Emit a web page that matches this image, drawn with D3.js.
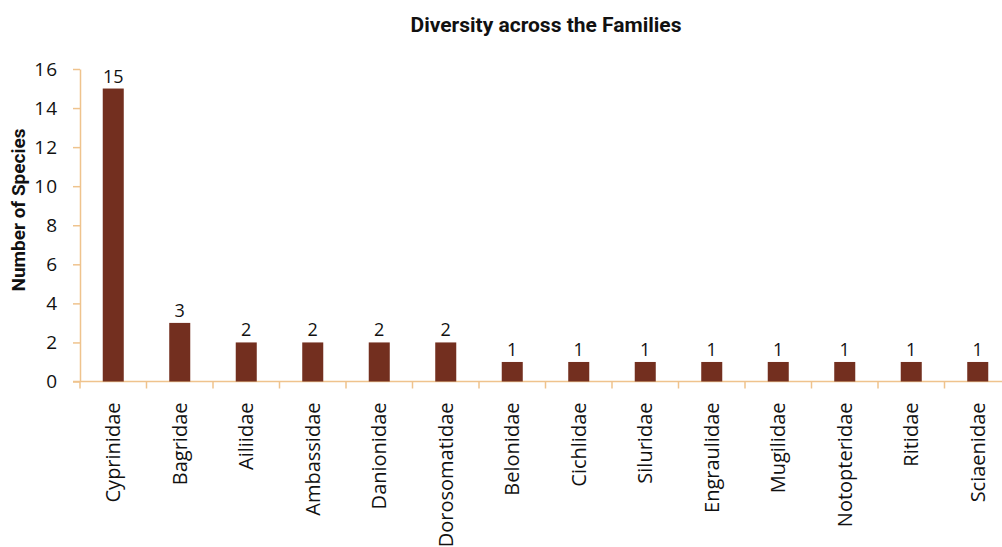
<!DOCTYPE html>
<html>
<head>
<meta charset="utf-8">
<script src="https://cdn.jsdelivr.net/npm/d3@7"></script>
<style>
  html, body { margin: 0; padding: 0; background: #fff; }
  svg { display: block; }
</style>
</head>
<body>
<svg id="chart" width="1002" height="547"></svg>
<script>
// Species count per fish family
const families = ["Cyprinidae", "Bagridae", "Ailiidae", "Ambassidae", "Danionidae", "Dorosomatidae",
  "Belonidae", "Cichlidae", "Siluridae", "Engraulidae", "Mugilidae", "Notopteridae", "Ritidae", "Sciaenidae"];
const species = [15, 3, 2, 2, 2, 2, 1, 1, 1, 1, 1, 1, 1, 1];
const yTicks = [0, 2, 4, 6, 8, 10, 12, 14, 16];

const svg = d3.select("#chart");
const axisColor = "#EFC38D";
const barColor = "#732F1F";
const numFont = "'Open Sans', 'Noto Sans', sans-serif";
const plot = { left: 80, right: 1011, top: 69, bottom: 381.5 };

const x = d3.scaleBand().domain(families).range([plot.left, plot.right]).padding(0);
const y = d3.scaleLinear().domain([0, 16]).range([plot.bottom, plot.top]);
const barW = x.bandwidth() * 0.316;

// Title
svg.append("text")
  .attr("x", 546).attr("y", 32)
  .attr("text-anchor", "middle")
  .attr("font-family", "Roboto, 'Noto Sans', sans-serif")
  .attr("font-weight", "bold")
  .attr("font-size", 21)
  .attr("fill", "#111")
  .text("Diversity across the Families");

// Y axis
const yAxis = svg.append("g")
  .attr("transform", `translate(${plot.left},0)`)
  .call(d3.axisLeft(y).tickValues(yTicks).tickSize(7).tickPadding(15).tickSizeOuter(0));
yAxis.select(".domain").attr("stroke", axisColor).attr("stroke-width", 1.5);
yAxis.selectAll(".tick line").attr("stroke", axisColor).attr("stroke-width", 1.5);
yAxis.selectAll(".tick text")
  .attr("font-family", numFont)
  .attr("font-size", 19)
  .attr("letter-spacing", 1)
  .attr("fill", "#111");

// Y axis title
svg.append("text")
  .attr("transform", "translate(25,210) rotate(-90)")
  .attr("text-anchor", "middle")
  .attr("font-family", "Roboto, 'Noto Sans', sans-serif")
  .attr("font-weight", "bold")
  .attr("font-size", 19)
  .attr("fill", "#111")
  .text("Number of Species");

// X axis with ticks at band boundaries
const xAxis = svg.append("g")
  .attr("transform", `translate(0,${plot.bottom})`);
xAxis.append("line")
  .attr("x1", plot.left - 7).attr("x2", plot.right)
  .attr("stroke", axisColor).attr("stroke-width", 1.5);
const bounds = families.map(f => x(f)).concat([plot.right]);
xAxis.selectAll("line.tick")
  .data(bounds)
  .join("line")
  .attr("class", "tick")
  .attr("x1", d => d).attr("x2", d => d)
  .attr("y1", 0).attr("y2", 7)
  .attr("stroke", axisColor).attr("stroke-width", 1.5);
xAxis.selectAll("text.cat")
  .data(families)
  .join("text")
  .attr("class", "cat")
  .attr("transform", d => `translate(${x(d) + x.bandwidth() / 2 + 7},21) rotate(-90)`)
  .attr("text-anchor", "end")
  .attr("font-family", "'Open Sans', 'Noto Sans', sans-serif")
  .attr("font-size", 20)
  .attr("fill", "#111")
  .text(d => d);

// Bars
const data = families.map((f, i) => ({ family: f, value: species[i] }));
svg.append("g").selectAll("rect")
  .data(data)
  .join("rect")
  .attr("x", d => x(d.family) + (x.bandwidth() - barW) / 2)
  .attr("width", barW)
  .attr("y", d => y(d.value))
  .attr("height", d => y(0) - y(d.value))
  .attr("fill", barColor);

// Value labels
svg.append("g").selectAll("text")
  .data(data)
  .join("text")
  .attr("x", d => x(d.family) + x.bandwidth() / 2)
  .attr("y", d => y(d.value) - 6)
  .attr("text-anchor", "middle")
  .attr("font-family", numFont)
  .attr("font-size", 18)
  .attr("fill", "#111")
  .text(d => d.value);
</script>
</body>
</html>
